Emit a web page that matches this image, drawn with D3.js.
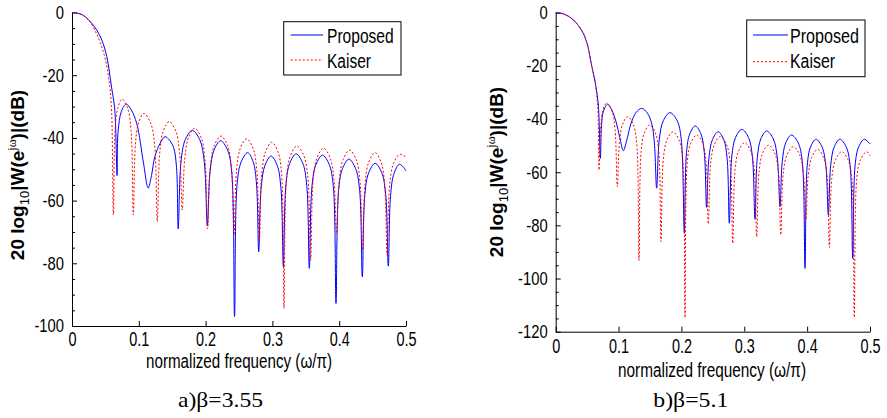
<!DOCTYPE html>
<html>
<head>
<meta charset="utf-8">
<script src="https://cdn.jsdelivr.net/npm/d3@7"></script>
<style>
  body { margin: 0; background: #fff; }
</style>
</head>
<body>
<script>
// ---- data: [normalized frequency, dB] ----
var xTicks = [0, 0.1, 0.2, 0.3, 0.4, 0.5];
var yTicksA = [0, -20, -40, -60, -80, -100];
var yTicksB = [0, -20, -40, -60, -80, -100, -120];
var seriesNames = ["Proposed", "Kaiser"];
var captions = ["a)\u03b2=3.55", "b)\u03b2=5.1"];

var proposedA = [
  [0,0],[0.008,-0.2],[0.017,-0.9],[0.027,-2.8],[0.037,-5.6],[0.045,-9],[0.052,-14],[0.059,-23.5],[0.064,-31],[0.0674,-52],
  [0.069,-38],[0.074,-31.5],[0.081,-29.2],[0.0885,-31],[0.097,-35.5],[0.107,-48],[0.114,-56],
  [0.119,-52],[0.124,-46],[0.132,-41.7],[0.1395,-39.6],[0.145,-40.5],[0.152,-43],[0.1565,-49.5],[0.159,-69],
  [0.1632,-47.6],[0.1695,-40.6],[0.180,-37.6],[0.1913,-40.6],[0.198,-47.6],[0.2026,-68],
  [0.2066,-50.9],[0.2126,-43.9],[0.2225,-40.9],[0.2329,-43.9],[0.2391,-50.9],[0.2433,-97],
  [0.2472,-54.7],[0.2532,-47.7],[0.263,-44.7],[0.2713,-47.7],[0.2762,-54.7],[0.2795,-76.3],
  [0.2832,-55.8],[0.2888,-48.8],[0.298,-45.8],[0.3072,-48.8],[0.3127,-55.8],[0.3164,-81],
  [0.3202,-55.1],[0.326,-48.1],[0.3356,-45.1],[0.3455,-48.1],[0.3514,-55.1],[0.3553,-81.6],
  [0.3592,-55.5],[0.3652,-48.5],[0.375,-45.5],[0.3851,-48.5],[0.3912,-55.5],[0.3952,-92.8],
  [0.3991,-56.8],[0.4049,-49.8],[0.4145,-46.8],[0.4246,-49.8],[0.4306,-56.8],[0.4346,-84.3],
  [0.4384,-58.1],[0.4442,-51.1],[0.4538,-48.1],[0.4637,-51.1],[0.4696,-58.1],[0.4735,-80.9],
  [0.4769,-58.4],[0.482,-51.4],[0.4905,-48.4],[0.5,-50.5]
];

var kaiserA = [
  [0,0],[0.008,-0.2],[0.017,-1],[0.027,-3],[0.035,-6],[0.043,-10],[0.05,-15],[0.055,-21],[0.059,-30],[0.0619,-64.6],
  [0.0645,-37.6],[0.0685,-30.6],[0.075,-27.6],[0.0834,-30.6],[0.0884,-37.6],[0.0918,-64.6],
  [0.0949,-42.2],[0.0997,-35.2],[0.1075,-32.2],[0.1176,-35.2],[0.1237,-42.2],[0.1277,-66.7],
  [0.1313,-44.8],[0.1366,-37.8],[0.1455,-34.8],[0.1553,-37.8],[0.1611,-44.8],[0.165,-63],
  [0.1687,-46.9],[0.1743,-39.9],[0.1835,-36.9],[0.1933,-39.9],[0.1991,-46.9],[0.203,-69],
  [0.207,-49.4],[0.213,-42.4],[0.223,-39.4],[0.2328,-42.4],[0.2386,-49.4],[0.2425,-71],
  [0.2463,-50.3],[0.252,-43.3],[0.2615,-40.3],[0.271,-43.3],[0.2766,-50.3],[0.2804,-73.1],
  [0.2841,-51.4],[0.2897,-44.4],[0.299,-41.4],[0.3082,-44.4],[0.3137,-51.4],[0.3174,-94.4],
  [0.3212,-52.6],[0.327,-45.6],[0.3365,-42.6],[0.3469,-45.6],[0.3531,-52.6],[0.3573,-79],
  [0.3611,-53.3],[0.3669,-46.3],[0.3765,-43.3],[0.3863,-46.3],[0.3921,-53.3],[0.396,-70.4],
  [0.3999,-53.9],[0.4058,-46.9],[0.4155,-43.9],[0.4253,-46.9],[0.4311,-53.9],[0.435,-75.8],
  [0.4387,-54.7],[0.4443,-47.7],[0.4535,-44.7],[0.4626,-47.7],[0.468,-54.7],[0.4716,-77.4],
  [0.4755,-55.2],[0.4813,-48.2],[0.491,-45.2],[0.5,-46.2]
];

var proposedB = [
  [0,0],[0.01,-0.3],[0.02,-1.3],[0.028,-2.7],[0.036,-4.8],[0.044,-7.8],[0.051,-12.5],[0.057,-19.7],[0.061,-24],[0.064,-27.8],[0.068,-35.4],[0.071,-54.8],
  [0.073,-42],[0.076,-37],[0.0827,-34.5],[0.089,-36.5],[0.096,-41],[0.102,-47],[0.1076,-51.9],
  [0.113,-48],[0.12,-41.5],[0.128,-37.5],[0.1368,-36],[0.146,-37.8],[0.153,-42],[0.157,-49],[0.1606,-66],
  [0.1648,-47.6],[0.1712,-40.6],[0.1818,-37.6],[0.1932,-40.6],[0.1997,-47.6],[0.2046,-83],
  [0.2081,-52.6],[0.2133,-45.6],[0.222,-42.6],[0.231,-45.6],[0.2364,-52.6],[0.24,-73.2],
  [0.2437,-54.8],[0.2493,-47.8],[0.2585,-44.8],[0.2674,-47.8],[0.2727,-54.8],[0.2762,-79.2],
  [0.2802,-53.9],[0.2862,-46.9],[0.2962,-43.9],[0.3066,-46.9],[0.3128,-53.9],[0.317,-77.7],
  [0.3207,-54.5],[0.3263,-47.5],[0.3355,-44.5],[0.3462,-47.5],[0.3525,-54.5],[0.3568,-73],
  [0.3604,-56],[0.3659,-49],[0.375,-46],[0.3858,-49],[0.3923,-56],[0.3966,-96.2],
  [0.4001,-57.6],[0.4053,-50.6],[0.414,-47.6],[0.4239,-50.6],[0.4298,-57.6],[0.4337,-76.1],
  [0.4374,-57.6],[0.4429,-50.6],[0.452,-47.6],[0.4623,-50.6],[0.4684,-57.6],[0.4725,-92.4],
  [0.4762,-57.6],[0.4818,-50.6],[0.491,-47.6],[0.5,-49.4]
];

var kaiserB = [
  [0,0],[0.01,-0.3],[0.02,-1.3],[0.028,-2.7],[0.036,-4.8],[0.044,-7.8],[0.051,-12.5],[0.057,-19.7],[0.061,-24],[0.064,-28.5],[0.067,-36],[0.069,-59.2],
  [0.0714,-43.9],[0.075,-36.9],[0.081,-33.9],[0.0895,-36.9],[0.0944,-43.9],[0.098,-65.5],
  [0.1013,-49.1],[0.1063,-42.1],[0.1145,-39.1],[0.1235,-42.1],[0.1289,-49.1],[0.1325,-93.3],
  [0.1359,-52.2],[0.141,-45.2],[0.1495,-42.2],[0.1585,-45.2],[0.1639,-52.2],[0.1675,-86.1],
  [0.1713,-54.8],[0.1771,-47.8],[0.1866,-44.8],[0.1962,-47.8],[0.2019,-54.8],[0.2057,-114.7],
  [0.2094,-56],[0.215,-49],[0.2243,-46],[0.2336,-49],[0.2391,-56],[0.2428,-79.5],
  [0.2466,-56.6],[0.2524,-49.6],[0.262,-46.6],[0.2718,-49.6],[0.2777,-56.6],[0.2816,-86.8],
  [0.2854,-58.9],[0.291,-51.9],[0.3005,-48.9],[0.3101,-51.9],[0.3159,-58.9],[0.3197,-84.3],
  [0.3235,-59.8],[0.3292,-52.8],[0.3388,-49.8],[0.3484,-52.8],[0.3542,-59.8],[0.358,-83.6],
  [0.362,-60.4],[0.368,-53.4],[0.378,-50.4],[0.388,-53.4],[0.394,-60.4],[0.398,-78],
  [0.4017,-61.4],[0.4074,-54.4],[0.4167,-51.4],[0.426,-54.4],[0.4316,-61.4],[0.4353,-88.3],
  [0.4392,-62.3],[0.4452,-55.3],[0.455,-52.3],[0.465,-55.3],[0.471,-62.3],[0.475,-114.6],
  [0.479,-62.3],[0.4849,-55.3],[0.4948,-52.3],[0.5,-53.9]
];

var SANS = "Liberation Sans, Arial, sans-serif";
var SERIF = "Liberation Serif, Times New Roman, serif";

var svg = d3.select("body").append("svg")
    .attr("width", 887)
    .attr("height", 418)
    .attr("font-family", SANS);

// squeeze text horizontally (the original uses a narrow face)
function squeeze(sel, k) {
  sel.each(function() {
    var n = this.getComputedTextLength();
    d3.select(this).attr("textLength", n * k).attr("lengthAdjust", "spacingAndGlyphs");
  });
}

function drawPanel(p) {
  var x = d3.scaleLinear().domain([0, 0.5]).range([p.left, p.right]);
  var y = d3.scaleLinear().domain([p.yMin, 0]).range([p.bottom, p.top]);
  var g = svg.append("g");

  // minor y ticks every 5 dB
  g.append("g")
    .attr("transform", "translate(" + p.left + ",0)")
    .call(d3.axisLeft(y)
      .tickValues(d3.range(p.yMin, 0, 5).filter(function(v) { return v % 20 !== 0; }))
      .tickSize(-3).tickFormat(""))
    .call(function(a) { a.select(".domain").remove(); });

  // y axis
  var ya = g.append("g")
    .attr("transform", "translate(" + p.left + ",0)")
    .call(d3.axisLeft(y).tickValues(p.yTicks)
      .tickSizeInner(-5).tickSizeOuter(0).tickPadding(8)
      .tickFormat(function(d) { return String(d); }))
    .attr("font-family", SANS);
  ya.selectAll("text").attr("font-size", 18.5).attr("fill", "#000");
  squeeze(ya.selectAll("text"), 0.8);

  // x axis
  var xa = g.append("g")
    .attr("transform", "translate(0," + p.bottom + ")")
    .call(d3.axisBottom(x).tickValues(xTicks)
      .tickSizeInner(-5).tickSizeOuter(0).tickPadding(p.xPad)
      .tickFormat(function(d) { return String(d); }))
    .attr("font-family", SANS);
  xa.selectAll("text").attr("font-size", 19.5).attr("fill", "#000");
  squeeze(xa.selectAll("text"), 0.74);
  g.selectAll(".domain, .tick line").attr("stroke", "#000");

  // curves
  var line = d3.line()
    .x(function(d) { return x(d[0]); })
    .y(function(d) { return y(d[1]); })
    .curve(d3.curveCatmullRom.alpha(0.5));

  g.append("path").datum(p.proposed)
    .attr("fill", "none").attr("stroke", "#0000ff").attr("stroke-width", 1)
    .attr("d", line);
  g.append("path").datum(p.kaiser)
    .attr("fill", "none").attr("stroke", "#ff0000").attr("stroke-width", 1)
    .attr("stroke-dasharray", "2,2")
    .attr("d", line);

  // legend
  var L = p.legend;
  g.append("rect")
    .attr("x", L.x0).attr("y", L.y0)
    .attr("width", L.x1 - L.x0).attr("height", L.y1 - L.y0)
    .attr("fill", "#fff").attr("stroke", "#000").attr("stroke-width", 1);
  seriesNames.forEach(function(name, i) {
    g.append("line")
      .attr("x1", L.l0).attr("x2", L.l1)
      .attr("y1", L.rows[i]).attr("y2", L.rows[i])
      .attr("stroke", i === 0 ? "#0000ff" : "#ff0000")
      .attr("stroke-dasharray", i === 0 ? null : "2,2");
    g.append("text")
      .attr("x", L.tx).attr("y", L.base[i])
      .attr("font-size", 20)
      .attr("textLength", L.widths[i]).attr("lengthAdjust", "spacingAndGlyphs")
      .text(name);
  });

  // y label
  var yl = g.append("text")
    .attr("transform", "translate(" + p.ylab.x + "," + p.ylab.y + ") rotate(-90)")
    .attr("text-anchor", "middle")
    .attr("font-size", 19).attr("font-weight", "bold");
  yl.append("tspan").text("20 log");
  yl.append("tspan").attr("font-size", 13).attr("font-weight", "normal").attr("dy", 5).text("10");
  yl.append("tspan").attr("dy", -5).text("|W(e");
  yl.append("tspan").attr("font-size", 12).attr("font-weight", "normal")
    .attr("font-family", SERIF).attr("dy", -8).text("j\u03c9");
  yl.append("tspan").attr("dy", 8).text(")|(dB)");

  // x label
  g.append("text")
    .attr("x", p.xlab.x).attr("y", p.xlab.y)
    .attr("text-anchor", "middle")
    .attr("font-size", 20)
    .attr("textLength", p.xlab.w).attr("lengthAdjust", "spacingAndGlyphs")
    .text("normalized frequency (\u03c9/\u03c0)");

  // caption
  g.append("text")
    .attr("x", p.cap.x).attr("y", p.cap.y)
    .attr("text-anchor", "middle")
    .attr("font-family", SERIF)
    .attr("font-size", 22)
    .attr("textLength", p.cap.w).attr("lengthAdjust", "spacingAndGlyphs")
    .text(p.caption);
}

drawPanel({
  left: 72, right: 406, top: 12.5, bottom: 326, yMin: -100, yTicks: yTicksA, xPad: 6,
  proposed: proposedA, kaiser: kaiserA, caption: captions[0],
  legend: { x0: 283.7, x1: 401, y0: 21.7, y1: 75, l0: 290.7, l1: 323, tx: 327,
            rows: [35, 60], base: [43.3, 68.3], widths: [66.7, 44] },
  ylab: { x: 23.5, y: 175 },
  xlab: { x: 239, y: 368.3, w: 186 },
  cap: { x: 220.5, y: 406.5, w: 85 }
});

drawPanel({
  left: 555.7, right: 870, top: 12.7, bottom: 331.7, yMin: -120, yTicks: yTicksB, xPad: 7,
  proposed: proposedB, kaiser: kaiserB, caption: captions[1],
  legend: { x0: 746.7, x1: 865, y0: 20, y1: 76.7, l0: 753, l1: 788, tx: 790,
            rows: [35, 61.7], base: [43.3, 68.3], widths: [69, 45] },
  ylab: { x: 503, y: 172 },
  xlab: { x: 712, y: 376.7, w: 188 },
  cap: { x: 690.8, y: 406.5, w: 75 }
});
</script>
</body>
</html>
